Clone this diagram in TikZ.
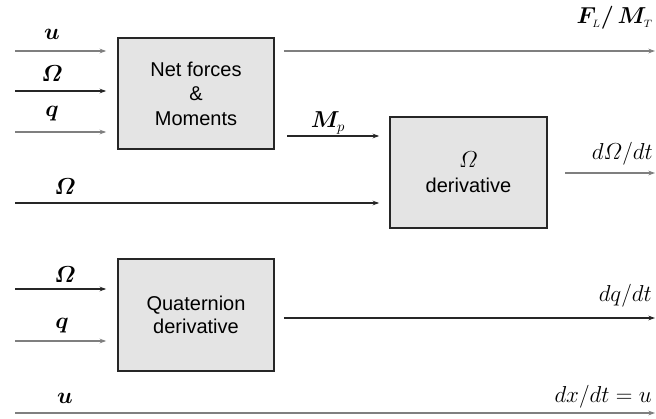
\documentclass[tikz,border=0pt]{standalone}
\usepackage{amsmath,bm}
\usepackage{fontspec}
\setmainfont{Liberation Sans}
\usetikzlibrary{arrows.meta,calc}
\definecolor{boxfill}{HTML}{E4E4E4}
\definecolor{lgray}{HTML}{7F7F7F}
\definecolor{ldark}{HTML}{262626}
\begin{document}
\begin{tikzpicture}[x=0.75pt,y=-0.75pt,
  blk/.style={draw=ldark,line width=1.2pt,fill=boxfill,minimum width=156*0.75pt,minimum height=111*0.75pt,inner sep=0pt,align=center,font=\fontsize{15}{18.5}\selectfont},
  sig/.style={line width=0.9pt,-{Stealth[length=5pt,width=3.5pt]}},
  gsig/.style={sig,draw=lgray},
  dsig/.style={sig,draw=ldark},
  lab/.style={inner sep=0pt,font=\fontsize{16}{19}\selectfont}]
\useasboundingbox (0,0) rectangle (656,418);
% blocks
\node[blk] (nf) at (196,93.5) {Net forces\\[-0.2pt]\&\\[-0.2pt]Moments};
\node[blk,minimum width=157*0.75pt] (od) at (468.5,172.5) {\fontsize{16}{16}\selectfont$\varOmega$\\[0pt]derivative};
\node[blk,minimum height=112*0.75pt] (qd) at (196,315) {Quaternion\\[-1pt]derivative};
% input start coordinates
\coordinate (iu) at (15,51);
\coordinate (iw) at (15,91);
\coordinate (iq) at (15,132);
\coordinate (iw2) at (15,203);
\coordinate (qw) at (15,289);
\coordinate (qq) at (15,341);
\coordinate (bu) at (15,413);
\coordinate (mp) at (287,136);
% output end coordinates
\coordinate (oF) at (655,51);
\coordinate (oW) at (655,173);
\coordinate (oQ) at (655,318);
\coordinate (oX) at (655,413);
\coordinate (oWs) at (565,173);
% connectors into Net forces
\draw[gsig,shorten >=11*0.75pt] (iu) -- (iu -| nf.west);
\draw[dsig,shorten >=11*0.75pt] (iw) -- (iw -| nf.west);
\draw[gsig,shorten >=11*0.75pt] (iq) -- (iq -| nf.west);
% into Omega derivative
\draw[dsig,shorten >=10*0.75pt] (mp) -- (mp -| od.west);
\draw[dsig,shorten >=10*0.75pt] (iw2) -- (iw2 -| od.west);
% into Quaternion derivative
\draw[dsig,shorten >=11*0.75pt] (qw) -- (qw -| qd.west);
\draw[gsig,shorten >=11*0.75pt] (qq) -- (qq -| qd.west);
% outputs
\draw[gsig,shorten <=9*0.75pt] (nf.east |- oF) -- (oF);
\draw[gsig] (oWs) -- (oW);
\draw[dsig,shorten <=9*0.75pt] (qd.east |- oQ) -- (oQ);
\draw[gsig,line width=1.5pt] (bu) -- (oX);
% labels
\node[lab] (lu) at (52,34) {$\bm{u}$};
\node[lab] (lw) at (52,74) {$\bm{\varOmega}$};
\node[lab] (lq) at (52,114) {$\bm{q}$};
\node[lab] (lw2) at (65,187) {$\bm{\varOmega}$};
\node[lab] (lqw) at (65,275) {$\bm{\varOmega}$};
\node[lab] (lqq) at (62,326) {$\bm{q}$};
\node[lab] (lbu) at (65,398) {$\bm{u}$};
\node[lab] (lmp) at (328,123) {$\bm{M}_{p}$};
\node[lab,anchor=east] (lF) at (653,18) {$\bm{F}_{\scriptscriptstyle L}\bm{/\,M}_{\scriptscriptstyle T}$};
\node[lab,anchor=east] (ldw) at (653,154) {$d\varOmega/dt$};
\node[lab,anchor=east] (ldq) at (652,296) {$dq/dt$};
\node[lab,anchor=east] (ldx) at (652,397) {$dx/dt=u$};
\end{tikzpicture}
\end{document}
